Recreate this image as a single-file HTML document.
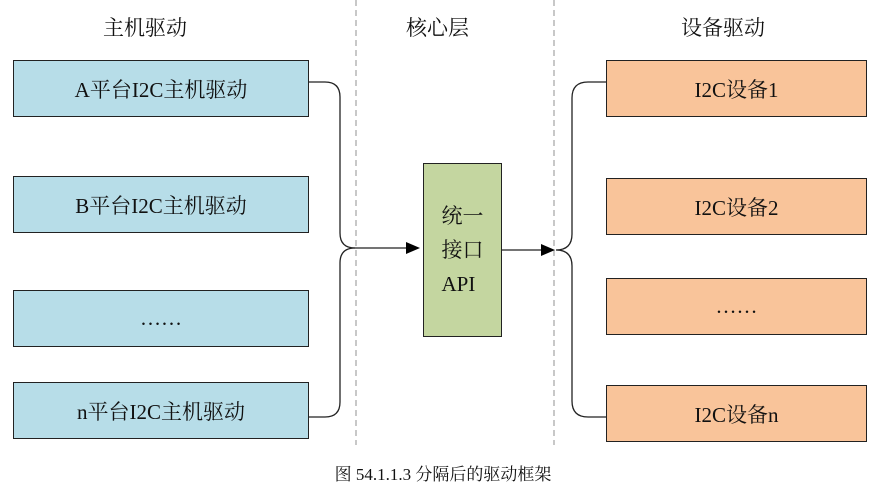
<!DOCTYPE html>
<html><head><meta charset="utf-8"><style>
body{margin:0;background:#fff;width:886px;height:495px;overflow:hidden;position:relative;font-family:"Liberation Serif","Noto Serif CJK SC",serif;color:#111}
.b{position:absolute;border:1.5px solid #222;box-sizing:border-box;display:flex;align-items:center;justify-content:center;font-size:21px}
.l{background:#b7dde8;left:13px;width:296px;height:57px}
.r{background:#f9c49a;left:606px;width:261px;height:57px}
.h{position:absolute;font-size:21px;top:12px}
</style></head><body>
<svg width="886" height="495" style="position:absolute;left:0;top:0">
<g stroke="#aaa" stroke-dasharray="6,4" stroke-width="1.3"><line x1="356" y1="0" x2="356" y2="445"/><line x1="554" y1="0" x2="554" y2="445"/></g>
<g fill="none" stroke="#222" stroke-width="1.3">
<path d="M309 82 H325 Q340 82 340 97 V233 Q340 248 355 248 H412"/>
<path d="M309 417 H325 Q340 417 340 402 V263 Q340 248 355 248"/>
<path d="M502 250 H548"/>
<path d="M606 82 H588 Q572 82 572 98 V234 Q572 250 556 250 Q572 250 572 266 V401 Q572 417 588 417 H606"/>
</g>
<polygon points="406,242 420,248 406,254" fill="#000"/>
<polygon points="541,244 555,250 541,256" fill="#000"/>
</svg>
<div class="h" style="left:103px">主机驱动</div>
<div class="h" style="left:406px">核心层</div>
<div class="h" style="left:681px">设备驱动</div>
<div class="b l" style="top:60px">A平台I2C主机驱动</div>
<div class="b l" style="top:176px">B平台I2C主机驱动</div>
<div class="b l" style="top:290px">……</div>
<div class="b l" style="top:382px">n平台I2C主机驱动</div>
<div class="b r" style="top:60px">I2C设备1</div>
<div class="b r" style="top:178px">I2C设备2</div>
<div class="b r" style="top:278px">……</div>
<div class="b r" style="top:385px">I2C设备n</div>
<div class="b" style="left:423px;top:163px;width:79px;height:174px;background:#c4d6a0;flex-direction:column;line-height:34px">统一<br>接口<br>API</div>
<div style="position:absolute;top:460px;left:0;width:886px;text-align:center;font-size:17px">图 54.1.1.3  分隔后的驱动框架</div>
</body></html>
